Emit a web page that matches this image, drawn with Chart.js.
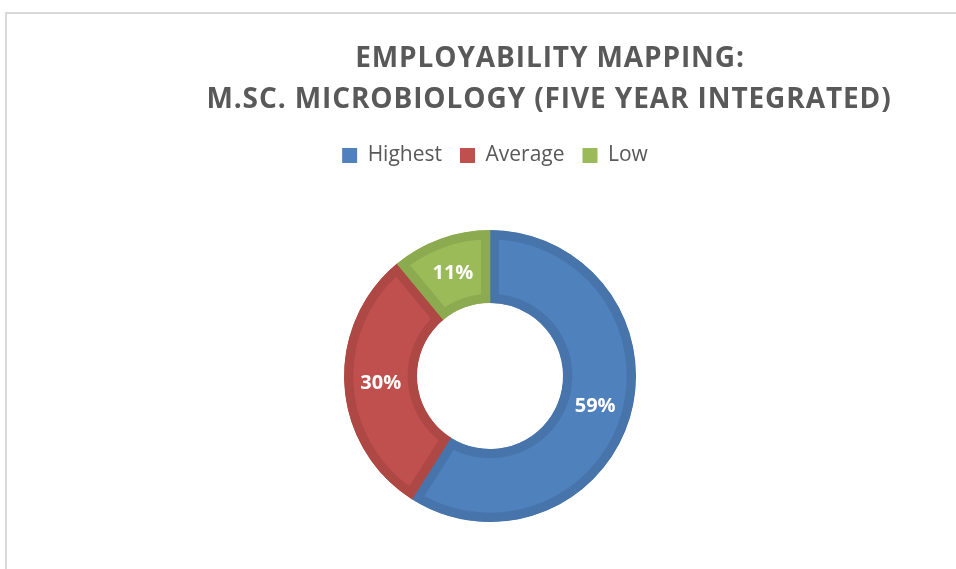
<!DOCTYPE html>
<html>
<head>
<meta charset="utf-8">
<script src="https://cdn.jsdelivr.net/npm/chart.js@4.4.1/dist/chart.umd.min.js"></script>
<style>
  html, body { margin: 0; padding: 0; background: #fff; }
  #wrap { position: relative; width: 956px; height: 569px; overflow: hidden; }
  #frame {
    position: absolute; left: 5px; top: 12px; right: -4px; bottom: -4px;
    border-top: 2px solid #d9d9d9; border-left: 2px solid #d9d9d9;
  }
  canvas { position: absolute; left: 0; top: 0; }
</style>
</head>
<body>
<div id="wrap">
  <div id="frame"></div>
  <canvas id="employabilityChart" width="956" height="580"></canvas>
</div>
<script>
const titleLines = ["EMPLOYABILITY MAPPING:", "M.SC. MICROBIOLOGY (FIVE YEAR INTEGRATED)"];
const levels = ["Highest", "Average", "Low"];
const shares = [59, 30, 11];
const fillColors = ["#4F81BD", "#C0504D", "#9BBB59"];
const edgeColors = ["#4774AA", "#AE4844", "#8CAA4F"];

// two-line title, centred a little right of the ring
const titleText = {
  id: 'titleText',
  afterDraw(chart) {
    const ctx = chart.ctx;
    ctx.save();
    ctx.font = 'bold 28px "Open Sans"';
    ctx.letterSpacing = '0.9px';
    ctx.fillStyle = '#595959';
    ctx.textAlign = 'center';
    ctx.textBaseline = 'alphabetic';
    ctx.fillText(titleLines[0], 550, 67);
    ctx.fillText(titleLines[1], 549, 108);
    ctx.restore();
  }
};

// nudge the legend box a few pixels right and down
const legendNudge = {
  id: 'legendNudge',
  afterLayout(chart) {
    const lg = chart.legend;
    lg.left += 5; lg.right += 5;
    lg.top += 4; lg.bottom += 4;
  }
};

// percentage labels in the middle of each slice
const sliceLabels = {
  id: 'sliceLabels',
  afterDatasetsDraw(chart) {
    const ctx = chart.ctx;
    const meta = chart.getDatasetMeta(0);
    ctx.save();
    ctx.font = 'bold 20px "Open Sans"';
    ctx.fillStyle = '#ffffff';
    ctx.textAlign = 'center';
    ctx.textBaseline = 'middle';
    meta.data.forEach((arc, i) => {
      const p = arc.tooltipPosition();
      ctx.fillText(shares[i] + '%', p.x, p.y);
    });
    ctx.restore();
  }
};

new Chart(document.getElementById('employabilityChart'), {
  type: 'doughnut',
  data: {
    labels: levels,
    datasets: [{
      data: shares,
      backgroundColor: fillColors,
      borderColor: edgeColors,
      borderWidth: 9,
      borderAlign: 'inner',
      borderJoinStyle: 'miter'
    }]
  },
  options: {
    responsive: false,
    animation: false,
    radius: 146,
    cutout: '50%',
    layout: { padding: { top: 123, bottom: 0, left: 24, right: 0 } },
    plugins: {
      title: { display: false },
      tooltip: { enabled: false },
      legend: {
        position: 'top',
        labels: {
          color: '#595959',
          font: { family: '"Open Sans"', size: 21 },
          boxWidth: 15,
          boxHeight: 15,
          padding: 18,
          generateLabels: (chart) => levels.map((name, i) => ({
            text: name,
            fillStyle: fillColors[i],
            strokeStyle: fillColors[i],
            lineWidth: 0,
            fontColor: '#595959',
            index: i
          }))
        }
      }
    }
  },
  plugins: [titleText, legendNudge, sliceLabels]
});
</script>
</body>
</html>
